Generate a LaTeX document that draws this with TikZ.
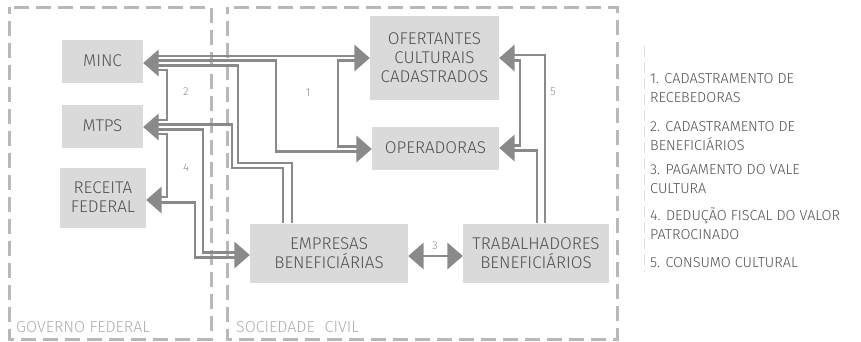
\documentclass[tikz,border=0pt]{standalone}
\usepackage{fontspec}
\IfFontExistsTF{Fira Sans Light}{\setmainfont{Fira Sans Light}}{\setmainfont{Fira Sans}}
\usetikzlibrary{calc}
\definecolor{boxc}{HTML}{DADADA}
\definecolor{txtc}{HTML}{505050}
\definecolor{linec}{HTML}{8A8A8A}
\definecolor{zonec}{HTML}{B8B8B8}
\definecolor{zlblc}{HTML}{ADADAD}
\definecolor{numc}{HTML}{8C8C8C}
\definecolor{barc}{HTML}{DDDDDD}
\begin{document}
\begin{tikzpicture}[x=1pt,y=-1pt,
  box/.style={fill=boxc, text=txtc, font=\fontsize{17pt}{19pt}\selectfont, align=center, inner sep=0pt},
  conn/.style={draw=linec, line width=2.6pt},
  zone/.style={draw=zonec, line width=3pt, dash pattern=on 15pt off 7pt, dash phase=8pt},
  zonelbl/.style={text=zlblc, font=\fontsize{16pt}{18pt}\selectfont, anchor=west, inner sep=0pt},
  num/.style={text=numc, font=\fontsize{11.5pt}{13pt}\selectfont, inner sep=0pt},
  legend/.style={anchor=west, align=left, text=txtc, font=\fontsize{14.4pt}{19pt}\selectfont, inner sep=0pt},
  headl/.style={fill=linec},
]
\useasboundingbox (0,0) rectangle (861,341);
% zones
\draw[zone] (9,7) rectangle (211,339);
\draw[zone] (227,7) rectangle (617,339);
\node[zonelbl] (gov) at (16,327) {GOVERNO FEDERAL};
\node[zonelbl] (soc) at (236,327) {SOCIEDADE\hspace{0.35em} CIVIL};
% boxes
\node[box, minimum width=81pt, minimum height=43pt] (MINC) at (102.5,61) {MINC};
\node[box, minimum width=81pt, minimum height=43pt] (MTPS) at (102.5,126) {MTPS};
\node[box, minimum width=86pt, minimum height=60pt] (RECEITA) at (103,197.5) {RECEITA\\FEDERAL};
\node[box, minimum width=129pt, minimum height=84pt] (OFER) at (434.5,57.5) {OFERTANTES\\CULTURAIS\\CADASTRADOS};
\node[box, minimum width=127pt, minimum height=43pt] (OPER) at (435.5,148) {OPERADORAS};
\node[box, minimum width=158pt, minimum height=59pt] (EMP) at (329,253) {EMPRESAS\\BENEFICIÁRIAS};
\node[box, minimum width=146pt, minimum height=59pt] (TRAB) at (536,253) {TRABALHADORES\\BENEFICIÁRIOS};
% arrow tips on the boxes
\coordinate (tMINC) at ($(MINC.east)+(0,2)$);
\coordinate (tMTPS) at ($(MTPS.east)+(0,1)$);
\coordinate (tREC) at ($(RECEITA.east)+(0,2.5)$);
\coordinate (tOFL) at ($(OFER.west)+(0,0.5)$);
\coordinate (tOFR) at ($(OFER.east)+(0,0.5)$);
\coordinate (tOPL) at ($(OPER.west)+(0,1)$);
\coordinate (tOPR) at (OPER.east);
\coordinate (tEL) at ($(EMP.west)+(0,2)$);
\coordinate (tER) at ($(EMP.east)+(0,3)$);
\coordinate (tTL) at ($(TRAB.west)+(0,3)$);
% flow 1
\draw[conn] ($(tMINC)+(15,-7)$) -- ($(tOFL)+(-15,-2)$);
\draw[conn] ($(tMINC)+(15,-2.4)$) -| (276,151.5) -- ($(tOPL)+(-15,2.5)$);
\draw[conn] ($(tOFL)+(-15,2.6)$) -| (338,146.5) -- ($(tOPL)+(-15,-2.5)$);
% flow 2
\draw[conn] ($(tMINC)+(15,2.2)$) -| (238,163) -| (EMP.north -| 292,0);
\draw[conn] ($(tMTPS)+(15,-2.4)$) -| (232,168) -| (EMP.north -| 283,0);
\draw[conn] ($(tMINC)+(15,7)$) -| (167,120) -- ($(tMTPS)+(15,-7)$);
% flow 4
\draw[conn] ($(tMTPS)+(15,2.6)$) -| (203,252.5) -- ($(tEL)+(-15,-2.5)$);
\draw[conn] ($(tREC)+(15,2.5)$) -| (195,257.5) -- ($(tEL)+(-15,2.5)$);
\draw[conn] ($(tMTPS)+(15,7)$) -| (167,197) -- ($(tREC)+(15,-3)$);
% flow 5
\draw[conn] ($(tOFR)+(15,-3)$) -| (TRAB.north -| 545,0);
\draw[conn] ($(tOPR)+(15,2.5)$) -| (TRAB.north -| 537,0);
\draw[conn] ($(tOFR)+(15,2.5)$) -| (520,145.5) -- ($(tOPR)+(15,-2.5)$);
% flow 3
\draw[conn] ($(tER)+(15,0)$) -- ($(tTL)+(-15,0)$);
% arrowheads pointing left (tip on the box at left)
\foreach \t in {tMINC,tMTPS,tREC,tOFR,tOPR,tER}
  \fill[headl] (\t) -- ++(15.5,-13.5) -- ++(0,27) -- cycle;
% arrowheads pointing right
\foreach \t in {tOFL,tOPL,tEL,tTL}
  \fill[headl] (\t) -- ++(-15.5,-13.5) -- ++(0,27) -- cycle;
% numbers
\node[num] (n1) at (308,93) {1};
\node[num] (n2) at (186,92) {2};
\node[num] (n3) at (435,246) {3};
\node[num] (n4) at (186,168) {4};
\node[num] (n5) at (553,92) {5};
% legend
\draw[draw=barc, line width=1pt, dash pattern=on 11pt off 5pt] (644,46) -- (644,272);
\node[legend] (lg1) at (650,88) {1. CADASTRAMENTO DE\\RECEBEDORAS};
\node[legend] (lg2) at (650,136.5) {2. CADASTRAMENTO DE\\BENEFICIÁRIOS};
\node[legend] (lg3) at (650,179.5) {3. PAGAMENTO DO VALE\\CULTURA};
\node[legend] (lg4) at (650,223.5) {4. DEDUÇÃO FISCAL DO VALOR\\PATROCINADO};
\node[legend] (lg5) at (650,263) {5. CONSUMO CULTURAL};
\end{tikzpicture}
\end{document}
